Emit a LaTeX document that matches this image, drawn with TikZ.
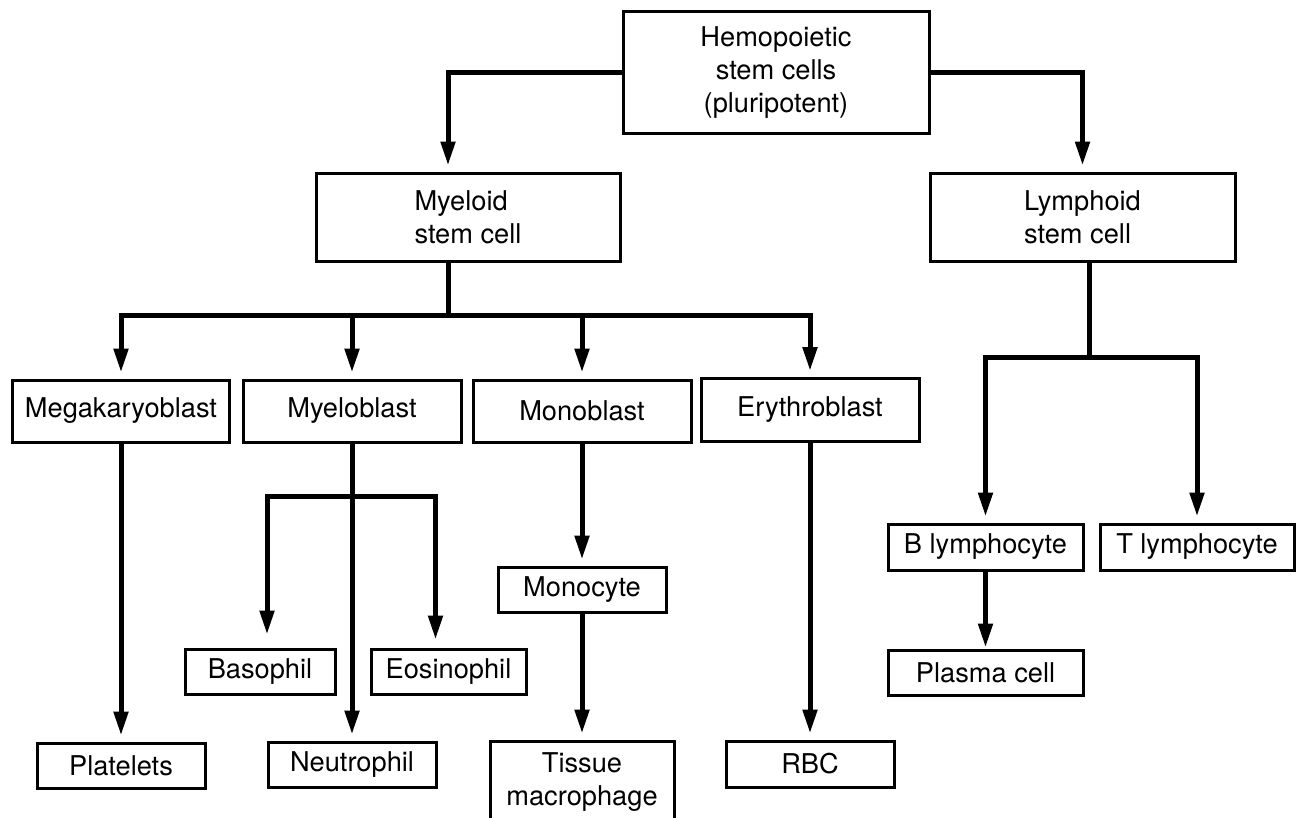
\documentclass[tikz,border=0pt]{standalone}
\usepackage{fontspec}
\setmainfont{TeX Gyre Heros}
\usetikzlibrary{arrows.meta,calc}

\begin{document}
\begin{tikzpicture}[x=0.02cm,y=-0.02cm,
	font=\fontsize{15.5}{19}\selectfont,
	cell/.style={draw,line width=0.06cm,align=center,inner sep=0pt},
	boxsize/.style 2 args={minimum width=#1*0.02cm,minimum height=#2*0.02cm},
	link/.style={line width=0.1cm},
	arr/.style={link,-{Triangle[length=0.48cm,width=0.28cm]},shorten >=0.12cm}]

  \useasboundingbox (0,0) rectangle (1298,818);

  % stem cells
  \node[cell,boxsize={306}{122}] (hsc) at (776,72.5) {Hemopoietic\\stem cells\\(pluripotent)};
  \node[cell,align=left,boxsize={304}{88}] (myeloid) at (468,217) {Myeloid\\stem cell};
  \node[cell,align=left,boxsize={305}{88}] (lymphoid) at (1082.5,217) {Lymphoid\\stem cell};

  % blasts
  \node[cell,boxsize={217}{62}] (mega) at (121,411) {Megakaryoblast};
  \node[cell,boxsize={218}{62}] (myeloblast) at (352,411) {Myeloblast};
  \node[cell,boxsize={218}{62}] (monoblast) at (582,411) {Monoblast};
  \node[cell,boxsize={218}{63}] (erythro) at (810,410) {Erythroblast};

  % mature cells
  \node[cell,boxsize={150}{45}] (baso) at (260,671.5) {Basophil};
  \node[cell,boxsize={155}{45}] (eosino) at (448.5,671.5) {Eosinophil};
  \node[cell,boxsize={168}{45}] (platelets) at (121,765.5) {Platelets};
  \node[cell,boxsize={168}{45}] (neutro) at (352,764.5) {Neutrophil};
  \node[cell,boxsize={168}{45}] (monocyte) at (582,589.5) {Monocyte};
  \node[cell,boxsize={184}{82}] (tissue) at (582,782) {Tissue\\macrophage};
  \node[cell,boxsize={168}{46}] (rbc) at (810,764) {RBC};
  \node[cell,boxsize={195}{46}] (blym) at (985.5,547) {B lymphocyte};
  \node[cell,boxsize={194}{46}] (tlym) at (1197,547) {T lymphocyte};
  \node[cell,boxsize={195}{45}] (plasma) at (985.5,672.5) {Plasma cell};

  \coordinate (mybar) at (448,315);
  \coordinate (bebar) at (352,496);
  \coordinate (lybar) at (1089,357);

  \draw[arr] (hsc.west) -| ($(myeloid.north)+(-20,0)$);
  \draw[arr] (hsc.east) -| (lymphoid.north);

  \draw[link] ($(myeloid.south)+(-20,0)$) -- (mybar);
  \foreach \n in {mega,erythro}
	  \draw[arr] (mybar) -| (\n.north);
  \foreach \n in {myeloblast,monoblast}
	  \draw[arr] (mybar -| \n.north) -- (\n.north);

  \draw[arr] (mega.south) -- (platelets.north);
  \draw[arr] (myeloblast.south) -- (neutro.north);
  \draw[arr,shorten >=0.26cm] (bebar) -| ($(baso.north)+(7,0)$);
  \draw[arr,shorten >=0.16cm] (bebar) -| ($(eosino.north)+(-13,0)$);
  \draw[arr] (monoblast.south) -- (monocyte.north);
  \draw[arr] (monocyte.south) -- (tissue.north);
  \draw[arr] (erythro.south) -- (rbc.north);

  \draw[link] (lymphoid.south -| lybar) -- (lybar);
  \draw[arr] (lybar) -| (blym.north);
  \draw[arr] (lybar) -| (tlym.north);
  \draw[arr,shorten >=0.02cm] (blym.south) -- (plasma.north);

\end{tikzpicture}
\end{document}
